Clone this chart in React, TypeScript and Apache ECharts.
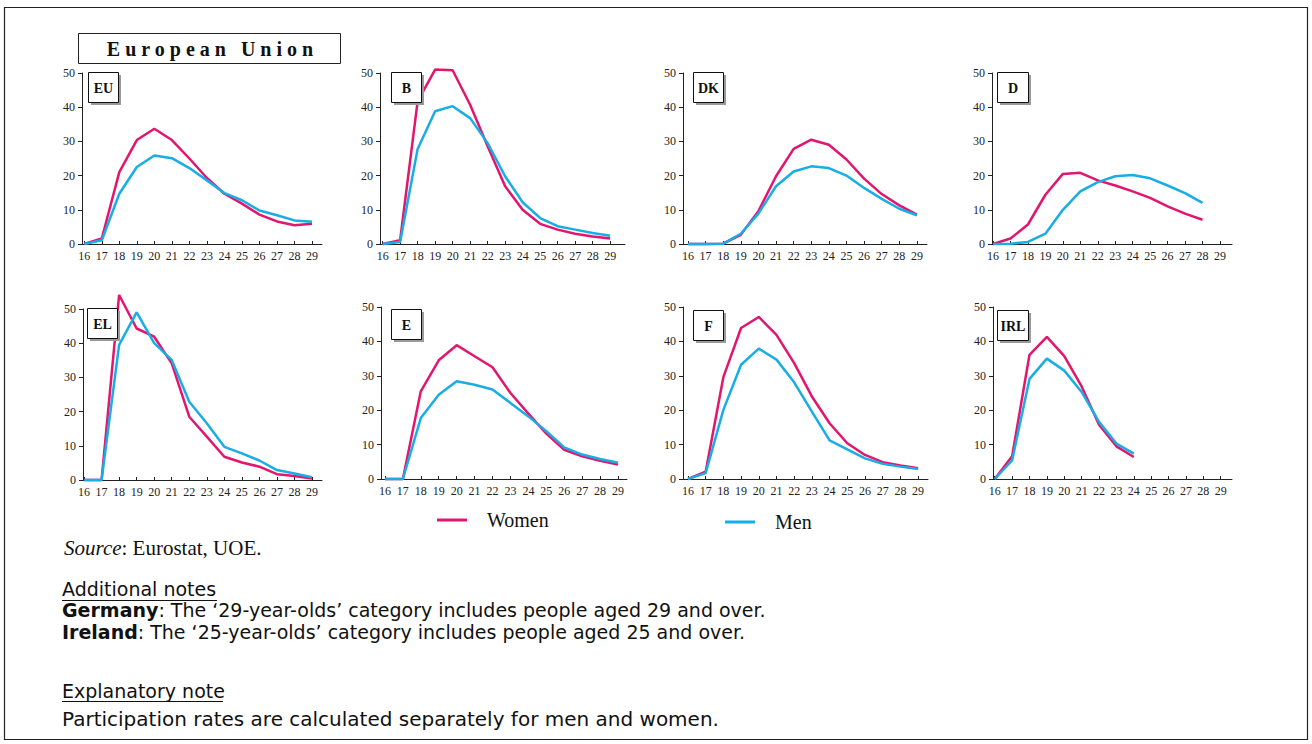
import React, { useEffect, useRef } from "react";
import * as echarts from "echarts";

const ages = [16, 17, 18, 19, 20, 21, 22, 23, 24, 25, 26, 27, 28, 29];
const yTicks = [0, 10, 20, 30, 40, 50];

const euWomen = [0, 1.6, 21, 30.4, 33.7, 30.4, 25, 19.3, 14.7, 11.8, 8.6, 6.6, 5.5, 5.9];
const euMen = [0, 1.1, 14.7, 22.5, 25.9, 25.1, 22.2, 18.6, 14.9, 12.8, 9.8, 8.4, 6.9, 6.5];
const bWomen = [0, 1.1, 41.7, 51, 50.8, 40.7, 28.6, 16.9, 10, 5.9, 4.2, 3, 2.2, 1.6];
const bMen = [0, 0.6, 27.8, 38.8, 40.3, 36.8, 29.5, 19.8, 12.2, 7.6, 5.2, 4.2, 3.2, 2.4];
const dkWomen = [0, 0, 0.1, 2.7, 9.6, 19.8, 27.8, 30.5, 29, 24.7, 19.1, 14.6, 11.3, 8.6];
const dkMen = [0, 0, 0.1, 3, 8.9, 16.9, 21.2, 22.7, 22.2, 20, 16.4, 13.2, 10.3, 8.4];
const dWomen = [0, 1.6, 5.7, 14.4, 20.5, 20.8, 18.6, 17.1, 15.4, 13.5, 11, 8.9, 7.1];
const dMen = [0, 0.1, 0.6, 3, 10, 15.4, 18.1, 19.8, 20.2, 19.2, 17.1, 14.9, 12];
const elWomen = [0, 0, 54.1, 44.3, 41.9, 34.1, 18.5, 12.7, 6.8, 5.1, 3.9, 1.7, 1.2, 0.4];
const elMen = [0, 0, 39.5, 49, 40, 35.1, 22.9, 16.6, 9.7, 7.8, 5.7, 2.9, 1.9, 0.8];
const eWomen = [0, 0, 25.5, 34.5, 38.9, 35.7, 32.5, 25, 19, 13.2, 8.5, 6.6, 5.3, 4.2];
const eMen = [0, 0, 17.7, 24.5, 28.4, 27.4, 26, 22.1, 18.2, 13.9, 9.2, 7.1, 5.8, 4.7];
const fWomen = [0, 2.1, 29.6, 43.9, 47.1, 41.9, 33.7, 24, 16.2, 10.4, 7, 4.9, 3.9, 3.1];
const fMen = [0, 1.7, 20.1, 33.2, 37.9, 34.7, 28.1, 19.6, 11.2, 8.6, 6, 4.4, 3.6, 2.9];
const irlWomen = [0, 6.6, 36.1, 41.3, 35.7, 26.9, 15.8, 9.5, 6.4];
const irlMen = [0, 5.4, 29.1, 35, 31.5, 25.3, 16.6, 10.3, 7.4];

const panelCodes = ["EU", "B", "DK", "D", "EL", "E", "F", "IRL"];
const womenSeries = [euWomen, bWomen, dkWomen, dWomen, elWomen, eWomen, fWomen, irlWomen];
const menSeries = [euMen, bMen, dkMen, dMen, elMen, eMen, fMen, irlMen];
const seriesNames = ["Women", "Men"];

const titleText = "E u r o p e a n   U n i o n";
const sourceLabel = "Source";
const sourceRest = ": Eurostat, UOE.";
const notesHeading = "Additional notes";
const noteGermanyBold = "Germany";
const noteGermany = ": The \u201829-year-olds\u2019 category includes people aged 29 and over.";
const noteIrelandBold = "Ireland";
const noteIreland = ": The \u201825-year-olds\u2019 category includes people aged 25 and over.";
const explHeading = "Explanatory note";
const explText = "Participation rates are calculated separately for men and women.";

// layout (pixels) for each panel
const layout = [
  { left: 82, top: 73, width: 240, height: 171, xmin: 15.87, xmax: 29.57, bx: 88, by: 72, bw: 30 },
  { left: 380, top: 73, width: 245, height: 171, xmin: 15.85, xmax: 29.85, bx: 391, by: 72, bw: 30 },
  { left: 683, top: 73, width: 244, height: 171, xmin: 15.72, xmax: 29.57, bx: 693, by: 72, bw: 30 },
  { left: 992, top: 73, width: 240, height: 171, xmin: 15.94, xmax: 29.69, bx: 997, by: 72, bw: 31 },
  { left: 83, top: 309, width: 239, height: 171, xmin: 15.94, xmax: 29.57, bx: 87, by: 308, bw: 30 },
  { left: 381, top: 307, width: 246, height: 172, xmin: 15.78, xmax: 29.5, bx: 391, by: 309, bw: 30 },
  { left: 683, top: 307, width: 245, height: 172, xmin: 15.72, xmax: 29.56, bx: 693, by: 310, bw: 30 },
  { left: 993, top: 307, width: 239, height: 172, xmin: 15.9, xmax: 29.65, bx: 997, by: 310, bw: 31 },
];

const WOMEN_COLOR = "#e2156f";
const MEN_COLOR = "#19ade6";
const SERIF = "'Liberation Serif', 'Times New Roman', serif";
const SANS = "'DejaVu Sans', 'Liberation Sans', sans-serif";
const AXIS_COLOR = "#222";

export default function App() {
  const ref = useRef<HTMLDivElement>(null);
  useEffect(() => {
    if (!ref.current) return;
    const chart = echarts.init(ref.current, null, { renderer: "svg" });

    const grids = layout.map((l) => ({
      left: l.left,
      top: l.top,
      width: l.width,
      height: l.height,
      containLabel: false,
    }));

    const xAxes = layout.map((l, i) => ({
      type: "value",
      gridIndex: i,
      min: l.xmin,
      max: l.xmax,
      axisLine: { show: true, lineStyle: { color: AXIS_COLOR, width: 1 } },
      axisTick: { show: true, inside: true, length: 3, customValues: ages, lineStyle: { color: AXIS_COLOR } },
      axisLabel: {
        customValues: ages,
        fontFamily: SERIF,
        fontSize: 12,
        color: AXIS_COLOR,
        margin: 6,
      },
      splitLine: { show: false },
    }));

    const yAxes = layout.map((l, i) => ({
      type: "value",
      gridIndex: i,
      min: 0,
      max: 50,
      interval: 10,
      axisLine: { show: true, lineStyle: { color: AXIS_COLOR, width: 1 } },
      axisTick: { show: true, length: 4, lineStyle: { color: AXIS_COLOR } },
      axisLabel: {
        customValues: yTicks,
        fontFamily: SERIF,
        fontSize: 12,
        color: AXIS_COLOR,
        margin: 7,
      },
      splitLine: { show: false },
    }));

    const series: any[] = [];
    panelCodes.forEach((code, i) => {
      series.push({
        name: seriesNames[0],
        type: "line",
        xAxisIndex: i,
        yAxisIndex: i,
        data: womenSeries[i].map((v, k) => [ages[k], v]),
        showSymbol: false,
        clip: false,
        color: WOMEN_COLOR,
        lineStyle: { color: WOMEN_COLOR, width: 2.5 },
        z: 2,
      });
      series.push({
        name: seriesNames[1],
        type: "line",
        xAxisIndex: i,
        yAxisIndex: i,
        data: menSeries[i].map((v, k) => [ages[k], v]),
        showSymbol: false,
        clip: false,
        color: MEN_COLOR,
        lineStyle: { color: MEN_COLOR, width: 2.5 },
        z: 3,
      });
    });

    const graphics: any[] = [];
    // outer frame
    graphics.push({
      type: "rect",
      shape: { x: 4.5, y: 7.5, width: 1303, height: 732 },
      style: { fill: "none", stroke: "#222", lineWidth: 1.2 },
      silent: true,
      z: 0,
    });
    // title box
    graphics.push({
      type: "rect",
      shape: { x: 78.5, y: 33.5, width: 262, height: 30 },
      style: { fill: "#fff", stroke: "#222", lineWidth: 1 },
      silent: true,
    });
    graphics.push({
      type: "text",
      x: 210,
      y: 49,
      style: {
        text: titleText,
        font: `bold 20px ${SERIF}`,
        fill: "#111",
        textAlign: "center",
        textVerticalAlign: "middle",
      },
      silent: true,
    });
    // panel label boxes
    layout.forEach((l, i) => {
      graphics.push({
        type: "rect",
        shape: { x: l.bx + 3, y: l.by + 3, width: l.bw, height: 30 },
        style: { fill: "#9a9a9a", stroke: "none" },
        silent: true,
        z: 10,
      });
      graphics.push({
        type: "rect",
        shape: { x: l.bx + 0.5, y: l.by + 0.5, width: l.bw, height: 30 },
        style: { fill: "#fff", stroke: "#111", lineWidth: 1 },
        silent: true,
        z: 11,
      });
      graphics.push({
        type: "text",
        x: l.bx + 0.5 + l.bw / 2,
        y: l.by + 16,
        style: {
          text: panelCodes[i],
          font: `bold 14px ${SERIF}`,
          fill: "#111",
          textAlign: "center",
          textVerticalAlign: "middle",
        },
        silent: true,
        z: 12,
      });
    });
    // source
    graphics.push({
      type: "text",
      x: 64,
      y: 548,
      style: {
        text: `{i|${sourceLabel}}{r|${sourceRest}}`,
        rich: {
          i: { fontFamily: SERIF, fontSize: 21, fontStyle: "italic", fill: "#111" },
          r: { fontFamily: SERIF, fontSize: 21, fill: "#111" },
        },
        textVerticalAlign: "middle",
      },
      silent: true,
    });
    // notes
    const noteText = (txt: string, y: number, size = 19) => ({
      type: "text",
      x: 62,
      y,
      style: { text: txt, font: `${size}px ${SANS}`, fill: "#111", textVerticalAlign: "middle" },
      silent: true,
    });
    const richNote = (b: string, rest: string, y: number) => ({
      type: "text",
      x: 62,
      y,
      style: {
        text: `{b|${b}}{r|${rest}}`,
        rich: {
          b: { fontFamily: SANS, fontSize: 19, fontWeight: "bold", fill: "#111" },
          r: { fontFamily: SANS, fontSize: 19, fill: "#111" },
        },
        textVerticalAlign: "middle",
      },
      silent: true,
    });
    graphics.push(noteText(notesHeading, 589));
    graphics.push({
      type: "line",
      shape: { x1: 62, y1: 600.5, x2: 217, y2: 600.5 },
      style: { stroke: "#111", lineWidth: 1 },
      silent: true,
    });
    graphics.push(richNote(noteGermanyBold, noteGermany, 610));
    graphics.push(richNote(noteIrelandBold, noteIreland, 632));
    graphics.push(noteText(explHeading, 691));
    graphics.push({
      type: "line",
      shape: { x1: 62, y1: 701.5, x2: 223, y2: 701.5 },
      style: { stroke: "#111", lineWidth: 1 },
      silent: true,
    });
    graphics.push(noteText(explText, 719, 20));

    const legendBase = {
      orient: "horizontal",
      itemWidth: 30,
      itemHeight: 3,
      icon: "rect",
      padding: 0,
      selectedMode: false,
      textStyle: { fontFamily: SERIF, fontSize: 20, color: "#111", padding: [0, 0, 0, 15] },
    };

    chart.setOption({
      animation: false,
      backgroundColor: "#fff",
      grid: grids,
      xAxis: xAxes,
      yAxis: yAxes,
      series,
      legend: [
        { ...legendBase, data: [seriesNames[0]], left: 437, top: 510 },
        { ...legendBase, data: [seriesNames[1]], left: 725, top: 512 },
      ],
      graphic: graphics,
    });
    return () => chart.dispose();
  }, []);
  return (
    <div
      ref={ref}
      style={{ position: "fixed", left: 0, top: 0, width: 1312, height: 744, background: "#fff" }}
    />
  );
}
